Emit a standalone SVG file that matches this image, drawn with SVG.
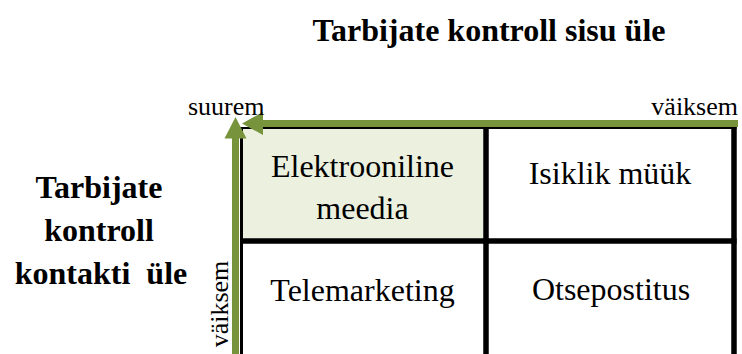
<svg xmlns="http://www.w3.org/2000/svg" width="742" height="354" viewBox="0 0 742 354">
<defs>
<style>
text{font-family:"Liberation Serif","Times New Roman","DejaVu Serif",serif;fill:#000}
.b{font-weight:bold;font-size:32px}
.c{font-size:32px}
.s{font-size:26px}
.grid{stroke:#000;fill:none}
.axis{stroke:#77933C;stroke-width:7;fill:none}
.head{fill:#77933C}
</style>
</defs>
<text class="b" x="489" y="41" text-anchor="middle" font-family="Liberation Serif, serif">Tarbijate kontroll sisu üle</text>
<g id="label-left" font-family="Liberation Serif, serif">
<text class="b" x="99" y="198" text-anchor="middle">Tarbijate</text>
<text class="b" x="99" y="241" text-anchor="middle">kontroll</text>
<text class="b" x="101" y="284" text-anchor="middle" xml:space="preserve">kontakti  üle</text>
</g>
<g id="cell-elektrooniline" font-family="Liberation Serif, serif">
<rect x="242" y="127" width="243" height="112" fill="#EBF1DE"/>
<text class="c" x="362.5" y="177" text-anchor="middle">Elektrooniline</text>
<text class="c" x="362.5" y="219" text-anchor="middle">meedia</text>
</g>
<g id="cell-isiklik" font-family="Liberation Serif, serif">
<text class="c" x="610" y="184" text-anchor="middle">Isiklik müük</text>
</g>
<g id="cell-telemarketing" font-family="Liberation Serif, serif">
<text class="c" x="362.5" y="301" text-anchor="middle">Telemarketing</text>
</g>
<g id="cell-otsepostitus" font-family="Liberation Serif, serif">
<text class="c" x="611" y="300" text-anchor="middle">Otsepostitus</text>
</g>
<g id="grid">
<line class="grid" x1="241.5" y1="127" x2="241.5" y2="354" stroke-width="3"/>
<line class="grid" x1="486" y1="125" x2="486" y2="354" stroke-width="5.5"/>
<line class="grid" x1="734" y1="125" x2="734" y2="354" stroke-width="5.5"/>
<line class="grid" x1="240" y1="241" x2="736.5" y2="241" stroke-width="5.5"/>
<line class="grid" x1="240" y1="128" x2="736.5" y2="128" stroke-width="2"/>
</g>
<g id="connectors">
<line class="axis" x1="738" y1="123.5" x2="262" y2="123.5"/>
<polygon class="head" points="242,123.5 263,112 263,135"/>
<line class="axis" x1="235.5" y1="354" x2="235.5" y2="137"/>
<polygon class="head" points="235.5,117 224.5,138.5 246.5,138.5"/>
</g>
<g id="axis-labels" font-family="Liberation Serif, serif">
<text class="s" x="188" y="115">suurem</text>
<text class="s" x="738" y="115" text-anchor="end">väiksem</text>
<text class="s" transform="translate(228 304) rotate(-90)" text-anchor="middle">väiksem</text>
</g>
</svg>
